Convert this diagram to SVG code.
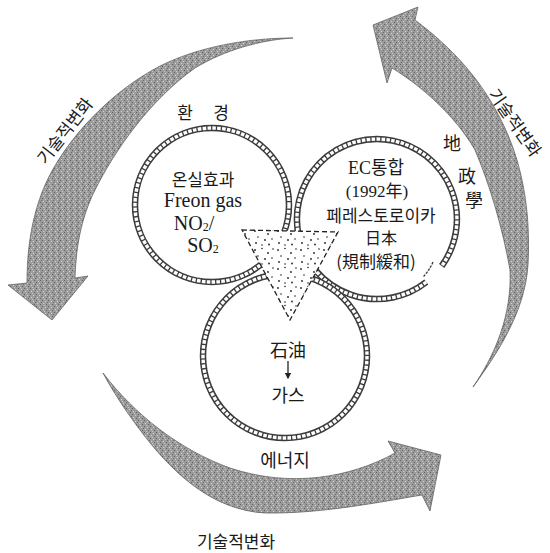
<svg xmlns="http://www.w3.org/2000/svg" width="550" height="553" viewBox="0 0 550 553">
<defs>
<pattern id="stip" width="6" height="6" patternUnits="userSpaceOnUse">
<rect width="6" height="6" fill="#9c9c9c"/>
<rect x="0" y="0" width="1" height="1" fill="#5e5e5e"/>
<rect x="3" y="1" width="1" height="1" fill="#d2d2d2"/>
<rect x="1" y="3" width="1" height="1" fill="#d6d6d6"/>
<rect x="4" y="4" width="1" height="1" fill="#616161"/>
<rect x="5" y="2" width="1" height="1" fill="#6c6c6c"/>
<rect x="2" y="5" width="1" height="1" fill="#c8c8c8"/>
</pattern>
<pattern id="dots" width="23" height="19" patternUnits="userSpaceOnUse">
<rect width="23" height="19" fill="#fff"/>
<circle cx="2" cy="3" r="0.9" fill="#222"/>
<circle cx="9" cy="1.5" r="0.8" fill="#222"/>
<circle cx="15" cy="6" r="0.9" fill="#222"/>
<circle cx="20" cy="2" r="0.8" fill="#222"/>
<circle cx="5" cy="9" r="0.8" fill="#222"/>
<circle cx="12" cy="12" r="0.9" fill="#222"/>
<circle cx="19" cy="11" r="0.8" fill="#222"/>
<circle cx="3" cy="15" r="0.9" fill="#222"/>
<circle cx="9" cy="17" r="0.8" fill="#222"/>
<circle cx="16" cy="16.5" r="0.9" fill="#222"/>
</pattern>
<marker id="ah" viewBox="0 0 10 10" refX="8" refY="5" markerWidth="5" markerHeight="5" orient="auto">
<path d="M0 0 L10 5 L0 10 Z" fill="#222"/>
</marker>
</defs>
<style>
.arrow{fill:url(#stip);stroke:#555;stroke-width:0.7}
.ro{fill:none;stroke:#3c3c3c;stroke-width:6.5}
.ri{fill:none;stroke:#fff;stroke-width:3.4;stroke-dasharray:3.6 1.3}
.kr{font-family:"Noto Sans CJK KR","Noto Sans CJK SC",sans-serif;fill:#1a1a1a;text-anchor:middle;dominant-baseline:central}
.lt{font-family:"Liberation Serif","Noto Sans CJK KR",serif;fill:#1a1a1a;text-anchor:middle;dominant-baseline:central}
</style>
<rect width="550" height="553" fill="#fff"/>

<g id="connectors">
<path class="arrow" d="M 293 38 C 250 38, 200 46, 160 66 C 110 92, 65 140, 45 185 C 30 220, 27 255, 27 283 L 8 285 L 52 320 L 88 276 L 75 278 C 76 250, 80 220, 95 190 C 115 150, 150 100, 195 68 C 225 50, 260 40, 293 38 Z"/>
<path class="arrow" d="M 103 373 C 135 415, 180 450, 230 468 C 290 488, 350 478, 395 453 L 388 441 L 441 455 L 430 511 L 422 495 C 380 502, 320 514, 265 513 C 210 510, 170 470, 140 430 C 125 410, 112 390, 103 373 Z"/>
<path class="arrow" d="M 473 387 C 500 350, 525 310, 528 265 C 531 210, 522 160, 500 118 C 482 82, 455 50, 415 20 L 418 7 L 373 25 L 387 83 L 392 68 C 420 85, 455 115, 475 150 C 490 185, 503 230, 510 270 C 512 315, 495 355, 473 387 Z"/>
<text class="kr" font-size="17" transform="translate(64,130) rotate(-52)">기술적변화</text>
<text class="kr" font-size="17" transform="translate(516,122) rotate(55)">기술적변화</text>
<text class="kr" font-size="17" x="236" y="540">기술적변화</text>
</g>

<g id="node-environment">
<circle class="ro" cx="212" cy="205" r="77"/>
<circle class="ri" cx="212" cy="205" r="77"/>
<text class="kr" font-size="17" x="185" y="111">환</text>
<text class="kr" font-size="17" x="221" y="111">경</text>
<text class="kr" font-size="17" x="203" y="178">온실효과</text>
<text class="lt" font-size="20" x="203" y="200">Freon gas</text>
<text class="lt" font-size="20" x="194" y="223">NO<tspan font-size="12" dy="4">2</tspan><tspan dy="-4">/</tspan></text>
<text class="lt" font-size="20" x="203" y="245">SO<tspan font-size="12" dy="4">2</tspan></text>
</g>

<g id="node-geopolitics">
<path class="ro" d="M 426.3 282 A 80 80 0 1 1 441.7 266"/>
<path class="ri" d="M 426.3 282 A 80 80 0 1 1 441.7 266"/>
<path d="M 433 262 Q 429 271 423 277" fill="none" stroke="#333" stroke-width="1.3" stroke-dasharray="2.5 1.2"/>
<text class="lt" font-size="18" x="376" y="168">EC통합</text>
<text class="lt" font-size="17" x="377" y="191">(1992年)</text>
<text class="kr" font-size="17" x="381" y="214">페레스토로이카</text>
<text class="kr" font-size="16" x="381" y="237">日本</text>
<text class="kr" font-size="17" x="376" y="260">(規制緩和)</text>
<text class="kr" font-size="18" x="452" y="142">地</text>
<text class="kr" font-size="18" x="467" y="175">政</text>
<text class="kr" font-size="18" x="474" y="199">學</text>
</g>

<g id="node-energy">
<circle class="ro" cx="285" cy="356" r="82"/>
<circle class="ri" cx="285" cy="356" r="82"/>
<text class="kr" font-size="18" x="288" y="349">石油</text>
<line x1="288" y1="361" x2="288" y2="378" stroke="#222" stroke-width="1.3" marker-end="url(#ah)"/>
<text class="kr" font-size="18" x="288" y="394">가스</text>
<text class="kr" font-size="18" x="285" y="459">에너지</text>
</g>

<g id="node-center">
<path d="M 242 230 L 338 232 L 290 320 Z" fill="url(#dots)" stroke="#222" stroke-width="1.3" stroke-dasharray="5 3"/>
</g>
</svg>
